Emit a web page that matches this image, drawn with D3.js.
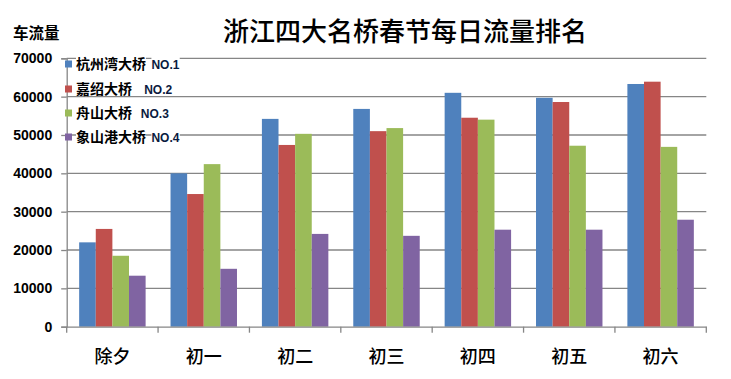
<!DOCTYPE html>
<html>
<head>
<meta charset="utf-8">
<script src="https://cdn.jsdelivr.net/npm/d3@7"></script>
<style>
  html, body { margin: 0; padding: 0; background: #fff; }
  svg { display: block; }
</style>
</head>
<body>
<svg id="chart" width="731" height="379"></svg>
<script>
const categories = ["除夕", "初一", "初二", "初三", "初四", "初五", "初六"];
const seriesNames = ["杭州湾大桥", "嘉绍大桥", "舟山大桥", "象山港大桥"];
const seriesRanks = ["NO.1", "NO.2", "NO.3", "NO.4"];
const seriesGaps = [1, 3, 2, 1];
const hangzhouwan = [22000, 40000, 54200, 56800, 61000, 59700, 63300];
const jiashao = [25500, 34600, 47400, 51000, 54500, 58600, 63900];
const zhoushan = [18500, 42400, 50300, 51800, 54000, 47200, 46900];
const xiangshangang = [13300, 15100, 24200, 23700, 25300, 25300, 27900];
const yTicks = [0, 10000, 20000, 30000, 40000, 50000, 60000, 70000];
const titleText = "浙江四大名桥春节每日流量排名";
const yAxisTitle = "车流量";

const seriesValues = [hangzhouwan, jiashao, zhoushan, xiangshangang];
const colors = ["#4F81BD", "#C0504D", "#9BBB59", "#8064A2"];

const svg = d3.select("#chart");
const pLeft = 66.7, pRight = 706.3, pTop = 58.3, pBottom = 326.7;
const grid = "#868686";
const latin = "'Liberation Sans', Arial, 'Noto Sans CJK SC', sans-serif";
const cjk = "'Noto Sans CJK SC', sans-serif";

const x0 = d3.scaleBand().domain(categories).range([pLeft, pRight]).padding(0);
const x1 = d3.scaleBand().domain(d3.range(seriesNames.length))
  .range([0, x0.bandwidth()]).paddingInner(0).paddingOuter(0.75);
const y = d3.scaleLinear().domain([0, 70000]).range([pBottom, pTop]);

// gridlines
svg.append("g").selectAll("line").data(yTicks.filter(d => d > 0)).join("line")
  .attr("x1", pLeft).attr("x2", pRight)
  .attr("y1", d => y(d)).attr("y2", d => y(d))
  .attr("stroke", grid).attr("stroke-width", 1.3);

// bars
const groups = svg.append("g").selectAll("g").data(categories).join("g")
  .attr("transform", c => `translate(${x0(c)},0)`);
groups.selectAll("rect")
  .data((c, ci) => seriesValues.map((s, si) => ({ si, v: s[ci] })))
  .join("rect")
  .attr("x", d => x1(d.si))
  .attr("width", x1.bandwidth())
  .attr("y", d => y(d.v))
  .attr("height", d => pBottom - y(d.v))
  .attr("fill", d => colors[d.si]);

// y axis
const yAxis = svg.append("g").attr("transform", `translate(${pLeft},0)`)
  .call(d3.axisLeft(y).tickValues(yTicks).tickSize(5.5).tickPadding(9).tickFormat(d3.format("d")));
yAxis.select(".domain").attr("stroke", grid).attr("stroke-width", 1.3);
yAxis.selectAll(".tick line").attr("stroke", grid).attr("stroke-width", 1.3);
yAxis.selectAll(".tick text").attr("font-family", latin).attr("font-size", 14)
  .attr("font-weight", "bold").attr("fill", "#000");

// x axis
const xAxis = svg.append("g").attr("transform", `translate(0,${pBottom})`)
  .call(d3.axisBottom(x0).tickSize(0).tickPadding(24));
xAxis.select(".domain").attr("stroke", grid).attr("stroke-width", 1.3);
xAxis.selectAll(".tick text").attr("font-family", cjk).attr("font-size", 18)
  .attr("font-weight", 500).attr("fill", "#000");
const boundaries = categories.map(c => x0(c)).concat([x0(categories[categories.length - 1]) + x0.step()]);
xAxis.append("g").selectAll("line").data(boundaries).join("line")
  .attr("x1", d => d).attr("x2", d => d).attr("y1", 0).attr("y2", 6)
  .attr("stroke", grid).attr("stroke-width", 1.3);

// title
svg.append("text").attr("x", 405).attr("y", 41)
  .attr("text-anchor", "middle").attr("font-family", cjk)
  .attr("font-size", 26).attr("font-weight", 500).attr("fill", "#000")
  .text(titleText);

// y axis title
svg.append("text").attr("x", 13).attr("y", 38.5)
  .attr("font-family", cjk).attr("font-size", 15.5).attr("font-weight", "bold")
  .attr("fill", "#000").text(yAxisTitle);

// legend
const legendY = [64, 89, 113, 137];
const lg = svg.append("g");
seriesNames.forEach((name, i) => {
  const row = lg.append("g").attr("transform", `translate(0,${legendY[i]})`);
  const bg1 = row.append("rect").attr("fill", "#fff");
  const bg2 = row.append("rect").attr("fill", "#fff");
  row.append("rect").attr("x", 65).attr("y", -3.5).attr("width", 7).attr("height", 7)
    .attr("fill", colors[i]);
  const t1 = row.append("text").attr("x", 76).attr("y", 5.2)
    .attr("font-family", cjk).attr("font-size", 14).attr("font-weight", "bold")
    .attr("fill", "#000").text(name);
  const b1 = t1.node().getBBox();
  const t2 = row.append("text").attr("x", b1.x + b1.width + 2 + seriesGaps[i] * 3.4).attr("y", 4.5)
    .attr("font-family", latin).attr("font-size", 12).attr("font-weight", "bold")
    .attr("fill", "#0a1a40").text(seriesRanks[i]);
  const b2 = t2.node().getBBox();
  bg1.attr("x", b1.x).attr("y", -7).attr("width", b1.width).attr("height", 14);
  bg2.attr("x", b2.x).attr("y", -7).attr("width", b2.width).attr("height", 14);
});
</script>
</body>
</html>
